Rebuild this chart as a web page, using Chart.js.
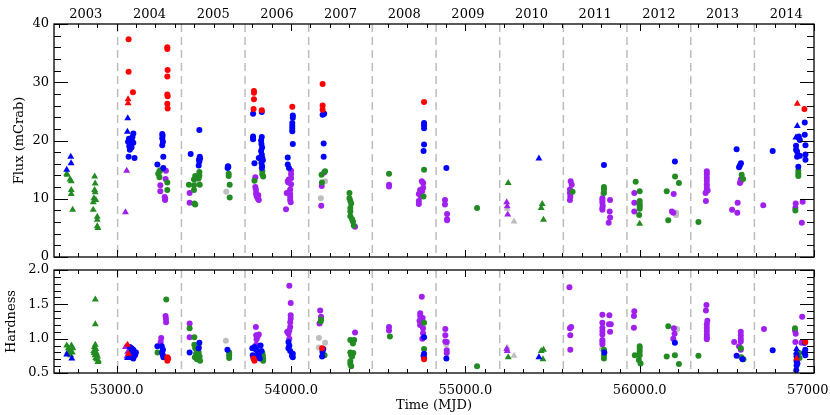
<!DOCTYPE html>
<html>
<head>
<meta charset="utf-8">
<script src="https://cdn.jsdelivr.net/npm/chart.js@4.4.1/dist/chart.umd.min.js"></script>
<style>
  body { margin: 0; background: #fff; }
  #wrap { position: relative; width: 830px; height: 415px; }
  canvas { position: absolute; left: 0; top: 0; }
</style>
</head>
<body>
<div id="wrap">
  <canvas id="flux" width="830" height="415"></canvas>
  <canvas id="hard" width="830" height="415"></canvas>
</div>
<script>
// year boundaries (MJD of Jan 1) and labels
const yearLabels = ['2003', '2004', '2005', '2006', '2007', '2008', '2009', '2010', '2011', '2012', '2013', '2014'];
const yearStarts = [52640, 53005, 53371, 53736, 54101, 54466, 54832, 55197, 55562, 55927, 56293, 56658, 57023];
const mjdTicks = [53000, 54000, 55000, 56000, 57000];

// [MJD, flux in mCrab] - upper panel
const redDotFlux = [[53068, 37.4], [53068, 31.8], [53093, 28.3], [53290, 36.0], [53290, 35.7], [53292, 32.1],
  [53290, 31.0], [53290, 27.9], [53292, 27.6], [53290, 26.3], [53292, 25.5], [53787, 28.5], [53787, 28.2],
  [53787, 27.1], [53785, 25.4], [53832, 25.2], [54007, 25.8], [54181, 29.7], [54181, 26.0], [54181, 25.3],
  [54763, 26.6], [56945, 25.4]];
const redTriFlux = [[53065, 27.1], [53065, 26.4], [56904, 26.3]];
const blueDotFlux = [[53095, 21.2], [53070, 20.3], [53085, 20.2], [53078, 19.8], [53095, 19.6], [53065, 19.8],
  [53082, 19.2], [53075, 18.4], [53085, 18.8], [53068, 17.2], [53102, 17.0], [53090, 20.6], [53072, 19.0],
  [53261, 21.1], [53261, 20.4], [53265, 19.8], [53261, 19.2], [53267, 17.2], [53233, 15.9], [53267, 15.3], [53263, 20.8],
  [53424, 17.7], [53474, 21.8], [53476, 17.2], [53472, 16.7], [53470, 15.7], [53478, 16.9], [53474, 16.4],
  [53638, 15.6], [53640, 15.5], [53636, 15.3],
  [53782, 24.6], [53832, 24.9], [53782, 20.7], [53782, 20.2], [53782, 20.4], [53832, 20.6], [53828, 20.0],
  [53830, 19.4], [53834, 18.8], [53828, 18.2], [53832, 17.6], [53835, 17.0], [53815, 17.0], [53838, 16.6],
  [53830, 16.2], [53834, 15.6], [53832, 15.3], [53790, 16.1],
  [54010, 24.3], [54010, 23.9], [54007, 23.0], [54007, 22.5], [54007, 21.6], [54010, 19.4], [53981, 17.1],
  [53981, 15.9], [53988, 15.3], [54007, 22.0],
  [54181, 24.4], [54190, 24.6], [54187, 19.5], [54187, 17.2],
  [54763, 23.0], [54763, 22.6], [54763, 22.1], [54763, 19.3], [54760, 18.2],
  [54891, 15.3], [55795, 15.8], [56202, 16.4], [56556, 18.5], [56581, 16.1], [56575, 15.7], [56570, 15.4],
  [56763, 18.2], [56947, 23.1], [56947, 21.0], [56910, 20.5], [56919, 20.1], [56951, 19.2], [56897, 19.1],
  [56903, 18.1], [56951, 17.6], [56903, 17.2], [56919, 17.4], [56951, 16.7], [56910, 15.5], [56897, 18.4], [56913, 20.7]];
const blueTriFlux = [[52736, 17.2], [52738, 16.1], [52713, 15.0], [53063, 23.8], [53061, 21.5], [55422, 16.9],
  [56904, 22.5], [56896, 20.5]];
const purpleDotFlux = [[53282, 14.8], [53280, 13.4], [53250, 12.3], [53250, 11.3], [53275, 10.3], [53277, 9.8], [53278, 10.0],
  [53418, 11.0], [53418, 9.3],
  [53795, 13.7], [53795, 12.0], [53798, 11.6], [53800, 11.0], [53803, 10.4], [53812, 10.6], [53815, 9.8], [53810, 10.0], [53800, 10.8],
  [54000, 14.8], [54000, 14.2], [54000, 13.5], [53987, 13.3], [53981, 13.0], [54000, 12.5], [53975, 11.0], [53995, 10.8],
  [53995, 10.3], [53995, 9.8], [53971, 8.2], [53985, 12.8], [53995, 11.6], [53998, 9.4], [53990, 11.2],
  [54190, 14.5], [54176, 12.2], [54173, 8.8], [54367, 5.2], [54562, 12.4], [54562, 12.1],
  [54750, 13.0], [54758, 12.7], [54758, 11.9], [54740, 11.5], [54733, 10.8], [54752, 11.3], [54733, 9.6], [54733, 9.1], [54745, 10.4],
  [54883, 9.8], [54883, 9.0], [54895, 7.4], [54895, 6.5], [54895, 6.3],
  [55604, 13.0], [55610, 12.4], [55600, 11.6], [55600, 11.0], [55600, 9.8], [55602, 10.4],
  [55786, 10.1], [55786, 9.3], [55786, 8.4], [55786, 8.1], [55786, 9.7], [55788, 8.8], [55830, 9.8], [55828, 7.8],
  [55830, 6.8], [55822, 5.9],
  [55969, 11.0], [55969, 9.3], [55969, 7.8], [56195, 10.8], [56185, 7.8], [56193, 7.6],
  [56385, 14.7], [56385, 14.2], [56385, 13.6], [56385, 13.1], [56385, 12.5], [56385, 12.0], [56385, 11.5], [56378, 11.0],
  [56390, 11.4], [56380, 9.6],
  [56580, 13.3], [56575, 12.7], [56580, 13.0], [56562, 9.3], [56530, 8.1], [56560, 7.6],
  [56709, 8.9], [56895, 9.2], [56893, 8.4], [56935, 9.5], [56930, 5.9]];
const purpleTriFlux = [[53057, 14.8], [53050, 7.7], [55237, 9.4], [55240, 8.7], [55243, 7.3]];
const greenDotFlux = [[53245, 14.7], [53238, 14.3], [53245, 13.7], [53290, 12.8], [53290, 11.5], [53250, 14.9],
  [53414, 12.4], [53443, 13.3], [53443, 12.3], [53443, 11.5], [53474, 14.6], [53474, 14.0], [53476, 12.4],
  [53450, 9.0], [53445, 9.2], [53450, 13.9], [53470, 13.5],
  [53642, 14.3], [53642, 13.9], [53648, 12.4], [53648, 10.2],
  [53835, 14.7], [53835, 14.2], [53840, 13.8], [53790, 13.1],
  [54195, 14.7], [54175, 14.1], [54177, 12.8],
  [54335, 11.0], [54335, 10.1], [54340, 9.6], [54340, 8.4], [54340, 7.8], [54340, 7.0], [54350, 6.5], [54355, 6.1],
  [54360, 5.4], [54345, 9.2],
  [54562, 14.3], [54763, 15.0], [54760, 10.4], [55067, 8.4], [55615, 11.2], [55795, 12.0], [55795, 11.6], [55795, 11.0],
  [55977, 12.9], [56000, 11.3], [56000, 9.6], [56000, 9.1], [56000, 8.7], [56000, 8.3], [55997, 7.2],
  [56155, 11.3], [56164, 6.3], [56203, 13.8], [56225, 12.7], [56337, 6.0],
  [56585, 14.1], [56593, 13.4], [56910, 14.8], [56910, 14.3], [56910, 13.9], [56893, 8.0]];
const greenTriFlux = [[52716, 14.1], [52713, 14.3], [52732, 13.3], [52739, 13.0], [52739, 11.5], [52739, 10.8], [52747, 8.1],
  [52873, 13.8], [52876, 12.6], [52873, 11.5], [52876, 11.1], [52869, 10.1], [52880, 9.8], [52865, 9.4], [52865, 8.1],
  [52888, 6.9], [52888, 6.4], [52888, 5.3], [52892, 5.0],
  [55246, 12.7], [55441, 9.1], [55435, 8.4], [55448, 6.4], [56000, 5.7]];
const grayDotFlux = [[53466, 13.0], [53628, 11.2], [54171, 10.1], [54195, 13.0], [55790, 10.9], [56209, 7.6], [56209, 7.2]];
const grayTriFlux = [[55279, 6.1], [55240, 8.3]];

// [MJD, hardness] - lower panel
const redDotHard = [[53290, 0.73], [53295, 0.71], [53290, 0.68], [53785, 0.71], [53790, 0.68], [54178, 0.86],
  [54763, 0.70], [56950, 0.95]];
const redTriHard = [[53062, 0.91], [53067, 0.78], [56900, 0.71]];
const blueDotHard = [[53075, 0.88], [53085, 0.86], [53095, 0.84], [53080, 0.80], [53090, 0.78], [53100, 0.81],
  [53105, 0.76], [53085, 0.73], [53095, 0.71], [53110, 0.80], [53075, 0.76],
  [53233, 0.89], [53258, 0.89], [53265, 0.84], [53265, 0.76], [53268, 0.73], [53260, 0.80],
  [53474, 0.94], [53418, 0.80], [53470, 0.86], [53635, 0.84],
  [53778, 0.86], [53790, 0.88], [53800, 0.84], [53810, 0.80], [53815, 0.76], [53780, 0.76], [53795, 0.73],
  [53825, 0.90], [53830, 0.82], [53820, 0.71], [53785, 0.72],
  [53985, 0.95], [53985, 0.86], [53995, 0.82], [54010, 0.78], [54010, 0.73], [53990, 0.90], [54005, 0.75],
  [54185, 0.85], [54180, 0.81], [54178, 0.74],
  [54763, 1.02], [54763, 0.78], [54763, 0.72], [54760, 0.75], [54891, 0.71], [55797, 0.80], [56202, 0.94],
  [56556, 0.75], [56590, 0.70], [56763, 0.83],
  [56947, 0.94], [56950, 0.84], [56950, 0.76], [56900, 0.74], [56900, 0.67], [56900, 0.61], [56898, 0.54],
  [56905, 0.64], [56945, 0.80]];
const blueTriHard = [[52713, 0.77], [52742, 0.71], [53062, 0.72], [55422, 0.73], [56898, 0.80], [56900, 0.85]];
const purpleDotHard = [[53280, 1.33], [53282, 1.29], [53283, 1.24], [53255, 1.01], [53252, 0.95],
  [53418, 1.22], [53418, 1.02],
  [53798, 1.17], [53800, 1.05], [53808, 1.03], [53815, 1.06], [53802, 0.99], [53800, 0.91],
  [53990, 1.77], [53998, 1.52], [53998, 1.34], [53998, 1.29], [53995, 1.24], [53995, 1.17], [53990, 1.12],
  [53978, 1.10], [53985, 1.07], [53990, 1.00],
  [54167, 1.41], [54172, 1.32], [54163, 1.22], [54367, 1.09], [54562, 1.17], [54562, 1.12],
  [54750, 1.61], [54741, 1.37], [54741, 1.33], [54748, 1.30], [54755, 1.30], [54737, 1.26], [54740, 1.20],
  [54757, 1.15], [54757, 1.08], [54753, 1.00],
  [54885, 1.14], [54885, 1.05], [54885, 0.96], [54893, 0.95], [54893, 0.83], [54893, 0.79],
  [55597, 1.75], [55607, 1.17], [55600, 1.15], [55602, 1.05], [55602, 0.84],
  [55786, 1.35], [55826, 1.34], [55786, 1.23], [55786, 1.16], [55786, 1.11], [55786, 1.06], [55786, 0.98],
  [55786, 0.95], [55786, 0.92], [55824, 1.21], [55834, 1.21], [55830, 1.10],
  [55969, 1.40], [55967, 1.33], [55967, 1.16], [56196, 1.15], [56200, 1.07], [56193, 1.00],
  [56383, 1.49], [56380, 1.41], [56388, 1.26], [56385, 1.21], [56385, 1.16], [56385, 1.11], [56385, 1.06],
  [56385, 1.02], [56385, 0.99],
  [56580, 1.10], [56580, 1.05], [56580, 1.00], [56580, 0.96], [56542, 0.95], [56570, 0.89], [56580, 0.84],
  [56713, 1.14], [56932, 1.32], [56891, 1.12], [56895, 1.07], [56893, 0.95], [56928, 0.94], [56945, 0.94]];
const purpleTriHard = [[53050, 0.88], [53063, 0.81], [53058, 0.74], [55237, 0.85], [55240, 0.82]];
const greenDotHard = [[53284, 1.57], [53234, 0.80],
  [53418, 1.15], [53445, 1.02], [53445, 0.91], [53450, 0.86], [53460, 0.84], [53470, 0.80], [53455, 0.78],
  [53465, 0.76], [53475, 0.74], [53448, 0.73], [53460, 0.70], [53478, 0.68], [53470, 0.88],
  [53645, 0.80], [53645, 0.76], [53645, 0.72],
  [53800, 0.84], [53835, 0.80], [53840, 0.71], [53840, 0.68], [53838, 0.76],
  [54172, 1.28], [54170, 1.25], [54192, 0.76],
  [54340, 0.98], [54362, 0.98], [54355, 0.93], [54340, 0.80], [54357, 0.79], [54345, 0.76], [54340, 0.67],
  [54340, 0.63], [54345, 0.60], [54350, 0.74],
  [54567, 1.03], [54763, 1.23], [54763, 0.85], [55067, 0.60],
  [55795, 0.84], [55795, 0.76], [55795, 0.71],
  [56000, 0.89], [56000, 0.85], [56000, 0.81], [55972, 0.76], [56000, 0.76], [55995, 0.69], [56005, 0.64],
  [56155, 0.74], [56164, 1.18], [56202, 0.76], [56225, 0.63], [56337, 0.75],
  [56583, 0.73], [56595, 0.70], [56580, 0.86], [56891, 1.15], [56915, 0.79], [56917, 0.72]];
const greenTriHard = [[52713, 0.90], [52722, 0.86], [52730, 0.83], [52740, 0.90], [52745, 0.80], [52735, 0.76],
  [52748, 0.86], [52718, 0.80],
  [52877, 1.57], [52877, 1.21], [52877, 0.91], [52872, 0.88], [52880, 0.85], [52868, 0.82], [52880, 0.80],
  [52885, 0.78], [52875, 0.76], [52890, 0.74], [52885, 0.70], [52895, 0.68], [52892, 0.66], [52870, 0.79], [52880, 0.72],
  [55246, 0.73], [55435, 0.82], [55448, 0.84], [55445, 0.70]];
const grayDotHard = [[53626, 0.97], [54160, 1.01], [54195, 0.94], [54160, 0.87], [54890, 0.92], [55784, 0.85], [56215, 1.14]];
const grayTriHard = [[55240, 0.87], [55279, 0.75]];

const RED = '#ff0000', BLUE = '#0000ff', PURPLE = '#a020f0', GREEN = '#228b22', GRAY = '#bebebe';
const FONT = { family: 'DejaVu Serif', size: 13 };
const MJD_MIN = 52640, MJD_MAX = 57000;

function set(pairs, color, style) {
  return {
    data: pairs.map(p => ({ x: p[0], y: p[1] })),
    backgroundColor: color,
    borderColor: color,
    borderWidth: 0,
    pointStyle: style,
    pointRadius: style === 'triangle' ? 4 : 3,
    showLine: false
  };
}

// frame, inward ticks on all sides and dashed year lines
const framePlugin = {
  id: 'frame',
  beforeDatasetsDraw(chart) {
    const { ctx, chartArea: a } = chart;
    const x = chart.scales.x;
    ctx.save();
    ctx.strokeStyle = '#bdbdbd';
    ctx.lineWidth = 1.5;
    ctx.setLineDash([8, 5]);
    yearStarts.slice(1, -1).forEach(m => {
      const px = x.getPixelForValue(m);
      ctx.beginPath();
      ctx.moveTo(px, a.top);
      ctx.lineTo(px, a.bottom);
      ctx.stroke();
    });
    ctx.restore();
  },
  afterDraw(chart, args, opts) {
    const { ctx, chartArea: a } = chart;
    const x = chart.scales.x, y = chart.scales.y;
    ctx.save();
    ctx.strokeStyle = '#000';
    ctx.lineWidth = 1.3;
    ctx.strokeRect(a.left, a.top, a.right - a.left, a.bottom - a.top);
    ctx.lineWidth = 1;
    ctx.beginPath();
    for (let k = -4; k <= 40; k++) {
      const v = 53000 + k * 1000 / 9;
      if (v < MJD_MIN || v > MJD_MAX + 0.5) continue;
      const len = (k % 9 === 0) ? 7 : 4;
      const px = Math.round(x.getPixelForValue(v)) + 0.5;
      ctx.moveTo(px, a.bottom); ctx.lineTo(px, a.bottom - len);
      ctx.moveTo(px, a.top); ctx.lineTo(px, a.top + len);
    }
    const n = Math.round((y.max - y.min) / opts.minor);
    for (let i = 0; i <= n; i++) {
      const v = y.min + i * opts.minor;
      const r = v / opts.major;
      const len = Math.abs(r - Math.round(r)) < 1e-6 ? 14 : 7;
      const py = Math.round(y.getPixelForValue(v)) + 0.5;
      ctx.moveTo(a.left, py); ctx.lineTo(a.left + len, py);
      ctx.moveTo(a.right, py); ctx.lineTo(a.right - len, py);
    }
    ctx.stroke();
    ctx.restore();
  }
};

function noPad(scale) {
  scale.paddingLeft = 0; scale.paddingRight = 0;
  scale.paddingTop = 0; scale.paddingBottom = 0;
}

const yearMid = yearLabels.map((_, i) => (yearStarts[i] + yearStarts[i + 1]) / 2);

new Chart(document.getElementById('flux'), {
  type: 'scatter',
  data: {
    datasets: [
      set(redTriFlux, RED, 'triangle'), set(redDotFlux, RED, 'circle'),
      set(blueTriFlux, BLUE, 'triangle'), set(blueDotFlux, BLUE, 'circle'),
      set(greenTriFlux, GREEN, 'triangle'), set(greenDotFlux, GREEN, 'circle'),
      set(purpleTriFlux, PURPLE, 'triangle'), set(purpleDotFlux, PURPLE, 'circle'),
      set(grayTriFlux, GRAY, 'triangle'), set(grayDotFlux, GRAY, 'circle')
    ]
  },
  options: {
    responsive: false,
    animation: false,
    layout: { padding: { left: 0, right: 16, top: 0, bottom: 158 } },
    plugins: { legend: { display: false }, tooltip: { enabled: false }, frame: { minor: 2, major: 10 } },
    scales: {
      x: { type: 'linear', min: MJD_MIN, max: MJD_MAX, display: false },
      years: {
        type: 'linear', position: 'top', min: MJD_MIN, max: MJD_MAX,
        grid: { display: false, drawTicks: false }, border: { display: false },
        afterBuildTicks: s => { s.ticks = yearMid.map(v => ({ value: v })); },
        afterFit: s => { s.height = 24; noPad(s); },
        ticks: { autoSkip: false, maxRotation: 0, padding: 2, color: '#000', font: FONT,
          callback: (v, i) => yearLabels[i] }
      },
      y: {
        min: 0, max: 40,
        grid: { display: false, drawTicks: false }, border: { display: false },
        afterFit: s => { s.width = 54; noPad(s); },
        ticks: { stepSize: 10, padding: 5, color: '#000', font: FONT },
        title: { display: true, text: 'Flux (mCrab)', color: '#000', font: FONT, padding: { top: 12, bottom: 0 } }
      }
    }
  },
  plugins: [framePlugin]
});

new Chart(document.getElementById('hard'), {
  type: 'scatter',
  data: {
    datasets: [
      set(redTriHard, RED, 'triangle'), set(redDotHard, RED, 'circle'),
      set(blueTriHard, BLUE, 'triangle'), set(blueDotHard, BLUE, 'circle'),
      set(greenTriHard, GREEN, 'triangle'), set(greenDotHard, GREEN, 'circle'),
      set(purpleTriHard, PURPLE, 'triangle'), set(purpleDotHard, PURPLE, 'circle'),
      set(grayTriHard, GRAY, 'triangle'), set(grayDotHard, GRAY, 'circle')
    ]
  },
  options: {
    responsive: false,
    animation: false,
    layout: { padding: { left: 0, right: 16, top: 270, bottom: 0 } },
    plugins: { legend: { display: false }, tooltip: { enabled: false }, frame: { minor: 0.1, major: 0.5 } },
    scales: {
      x: {
        type: 'linear', min: MJD_MIN, max: MJD_MAX,
        grid: { display: false, drawTicks: false }, border: { display: false },
        afterBuildTicks: s => { s.ticks = mjdTicks.map(v => ({ value: v })); },
        afterFit: s => { s.height = 42; noPad(s); },
        ticks: { autoSkip: false, maxRotation: 0, padding: 10, color: '#000', font: FONT,
          callback: v => v.toFixed(1) },
        title: { display: true, text: 'Time (MJD)', color: '#000', font: FONT, padding: { top: 0, bottom: 2 } }
      },
      y: {
        min: 0.5, max: 2.0,
        grid: { display: false, drawTicks: false }, border: { display: false },
        afterFit: s => { s.width = 54; noPad(s); },
        ticks: { stepSize: 0.5, padding: 5, color: '#000', font: FONT, callback: v => v.toFixed(1) },
        title: { display: true, text: 'Hardness', color: '#000', font: FONT, padding: { top: 4, bottom: 0 } }
      }
    }
  },
  plugins: [framePlugin]
});
</script>
</body>
</html>
